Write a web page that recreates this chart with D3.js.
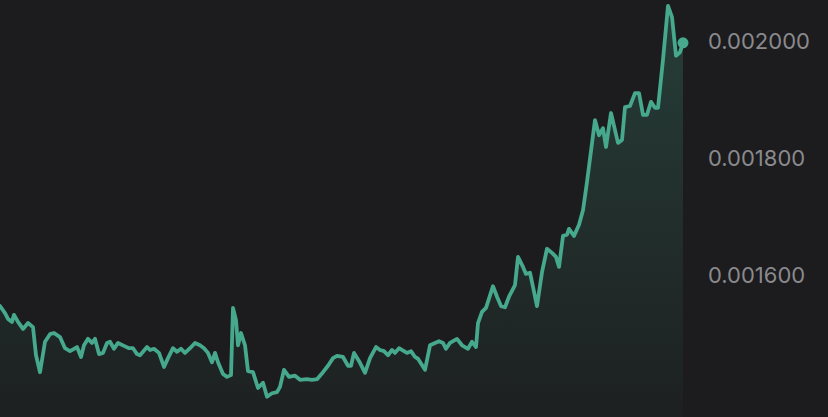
<!DOCTYPE html>
<html>
<head>
<meta charset="utf-8">
<script src="https://cdn.jsdelivr.net/npm/d3@7"></script>
<style>
  html, body { margin: 0; padding: 0; background: #1c1c1e; overflow: hidden; }
  svg { display: block; }
</style>
</head>
<body>
<svg id="chart"></svg>
<script>
// price history
var times = [0, 5, 8, 12, 14, 18, 23, 28, 33, 36, 40, 45, 50, 54, 60, 65, 70, 74, 77, 81,
  84, 88, 92, 95, 99, 103, 107, 110, 114, 118, 124, 129, 133, 137, 140, 143, 147, 150, 154, 159,
  164, 168, 173, 177, 181, 185, 190, 195, 200, 204, 208, 212, 215, 218, 223, 227, 231, 233, 236, 238,
  241, 245, 248, 253, 258, 263, 267, 272, 277, 280, 284, 289, 295, 300, 307, 312, 317, 323, 328, 333,
  337, 343, 348, 351, 354, 360, 365, 370, 376, 380, 384, 388, 392, 395, 399, 404, 407, 411, 415, 418,
  425, 430, 435, 439, 443, 446, 450, 457, 462, 468, 472, 476, 478, 482, 486, 493, 497, 501, 505, 509,
  515, 518, 523, 526, 530, 533, 537, 542, 547, 552, 556, 559, 563, 567, 569, 574, 579, 583, 587, 595,
  599, 603, 606, 611, 618, 622, 625, 630, 635, 639, 643, 647, 651, 655, 658, 663, 668, 672, 676, 680,
  683];

var prices = [0.001546, 0.001534, 0.001524, 0.001519, 0.001531, 0.001519, 0.001507, 0.001517, 0.001510, 0.001462,
  0.001433, 0.001485, 0.001498, 0.001500, 0.001493, 0.001474, 0.001469, 0.001473, 0.001476, 0.001459,
  0.001479, 0.001490, 0.001483, 0.001490, 0.001464, 0.001466, 0.001483, 0.001485, 0.001473, 0.001483,
  0.001478, 0.001474, 0.001474, 0.001464, 0.001462, 0.001468, 0.001476, 0.001471, 0.001473, 0.001466,
  0.001442, 0.001457, 0.001474, 0.001468, 0.001473, 0.001466, 0.001474, 0.001483, 0.001479, 0.001474,
  0.001466, 0.001450, 0.001466, 0.001450, 0.001430, 0.001425, 0.001428, 0.001543, 0.001522, 0.001479,
  0.001500, 0.001479, 0.001435, 0.001433, 0.001406, 0.001415, 0.001391, 0.001397, 0.001399, 0.001408,
  0.001437, 0.001425, 0.001427, 0.001420, 0.001421, 0.001420, 0.001421, 0.001433, 0.001444, 0.001457,
  0.001461, 0.001459, 0.001444, 0.001444, 0.001466, 0.001449, 0.001432, 0.001457, 0.001476, 0.001471,
  0.001469, 0.001462, 0.001471, 0.001466, 0.001474, 0.001469, 0.001466, 0.001469, 0.001459, 0.001456,
  0.001437, 0.001479, 0.001483, 0.001486, 0.001483, 0.001473, 0.001483, 0.001490, 0.001479, 0.001473,
  0.001485, 0.001476, 0.001517, 0.001536, 0.001543, 0.001580, 0.001562, 0.001546, 0.001544, 0.001562,
  0.001582, 0.001630, 0.001613, 0.001601, 0.001603, 0.001579, 0.001546, 0.001604, 0.001644, 0.001637,
  0.001630, 0.001613, 0.001666, 0.001668, 0.001678, 0.001666, 0.001685, 0.001710, 0.001758, 0.001864,
  0.001838, 0.001850, 0.001818, 0.001876, 0.001825, 0.001830, 0.001886, 0.001888, 0.001910, 0.001910,
  0.001873, 0.001873, 0.001895, 0.001885, 0.001885, 0.001967, 0.002059, 0.002040, 0.001974, 0.001980,
  0.001996];

var yTicks = [0.0016, 0.0018, 0.0020];

var W = 828, H = 417;
var plotRight = 683;
var lineColor = "#46a88c";

var svg = d3.select("#chart").attr("width", W).attr("height", H);

var x = d3.scaleLinear().domain([0, 683]).range([0, plotRight]);
var y = d3.scaleLinear().domain([0.0016, 0.0020]).range([274.5, 40.5]);

var data = times.map(function(t, i) { return { t: t, v: prices[i] }; });

// gradient under the line
var grad = svg.append("defs").append("linearGradient")
  .attr("id", "fillGrad")
  .attr("gradientUnits", "userSpaceOnUse")
  .attr("x1", 0).attr("y1", 0).attr("x2", 0).attr("y2", H);
grad.append("stop").attr("offset", "0%").attr("stop-color", lineColor).attr("stop-opacity", 0.24);
grad.append("stop").attr("offset", "100%").attr("stop-color", lineColor).attr("stop-opacity", 0.03);

var area = d3.area()
  .x(function(d) { return x(d.t); })
  .y0(H)
  .y1(function(d) { return y(d.v); });

var line = d3.line()
  .x(function(d) { return x(d.t); })
  .y(function(d) { return y(d.v); });

svg.append("path")
  .datum(data)
  .attr("d", area)
  .attr("fill", "url(#fillGrad)");

svg.append("path")
  .datum(data)
  .attr("d", line)
  .attr("fill", "none")
  .attr("stroke", lineColor)
  .attr("stroke-width", 3.8)
  .attr("stroke-linejoin", "round")
  .attr("stroke-linecap", "round");

// last price marker
var last = data[data.length - 1];
svg.append("circle")
  .attr("cx", x(last.t))
  .attr("cy", y(last.v))
  .attr("r", 5.5)
  .attr("fill", lineColor);

// right-hand price labels
var yAxis = d3.axisRight(y)
  .tickValues(yTicks)
  .tickSize(0)
  .tickPadding(0)
  .tickFormat(d3.format(".6f"));

var axisG = svg.append("g")
  .attr("transform", "translate(708,0)")
  .call(yAxis);
axisG.select(".domain").remove();
axisG.selectAll("text")
  .attr("x", 0)
  .attr("dy", "0.35em")
  .style("font-family", "Inter, 'Noto Sans', sans-serif")
  .style("font-size", "22px")
  .style("fill", "#8a8a8e");
</script>
</body>
</html>
